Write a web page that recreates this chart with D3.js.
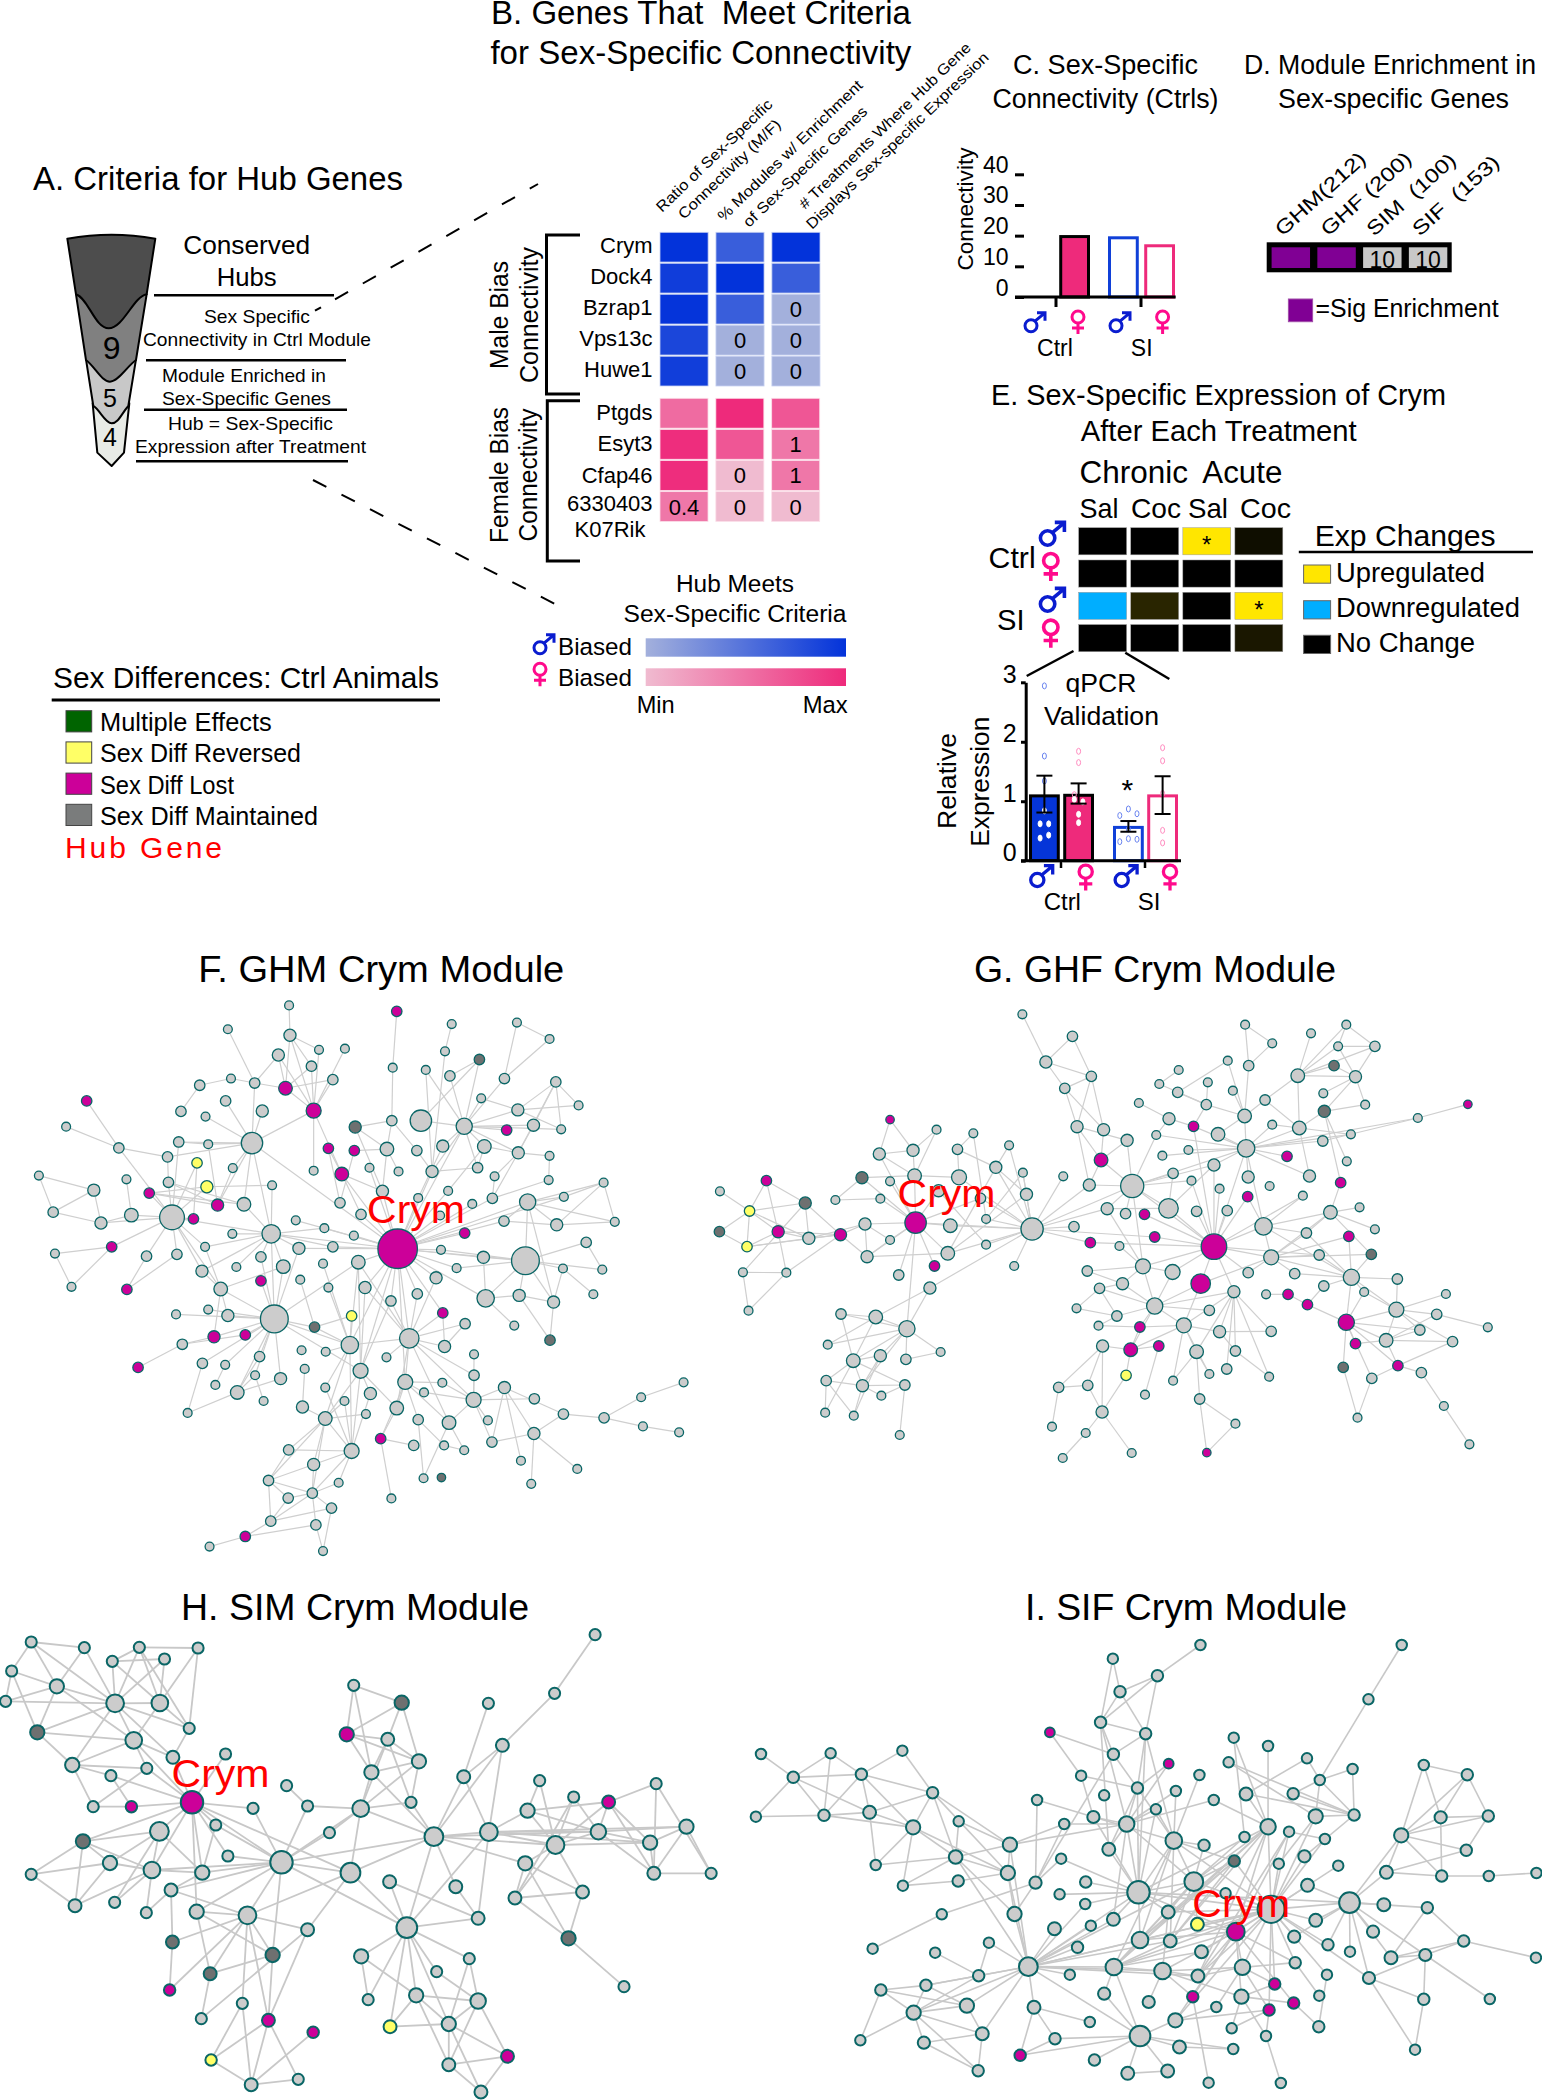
<!DOCTYPE html>
<html><head><meta charset="utf-8">
<script src="https://cdn.jsdelivr.net/npm/d3@7"></script>
<style>html,body{margin:0;background:#fff}svg{display:block}text{font-family:"Liberation Sans",Arial,sans-serif;fill:#000;white-space:pre}</style>
</head><body><svg id="c" width="1542" height="2100"></svg>
<script>
// ---------- panel B
const maleGenes=["Crym","Dock4","Bzrap1","Vps13c","Huwe1"];
const femaleGenes=["Ptgds","Esyt3","Cfap46","6330403"];
const hubMetrics=["ratio","modules","treatments"];
const maleStrength=[[1,.66,1],[.92,1,.66],[.99,.66,0],[.85,0,0],[.91,0,0]];
const maleCellText=[["","",""],["","",""],["","","0"],["","0","0"],["","0","0"]];
const femaleStrength=[[.55,1,.7],[.98,.7,.47],[.98,0,.47],[.47,0,0]];
const femaleCellText=[["","",""],["","","1"],["","0","1"],["0.4","0","0"]];
// ---------- panel C
const connGroups=["Ctrl","SI"], sexes=["M","F"];
const connTicks=[0,10,20,30,40];
const connValues=[["Ctrl","M",0],["Ctrl","F",19.7],["SI","M",19.3],["SI","F",16.7]];
// ---------- panel D
const enrichLabels=["GHM(212)","GHF (200)","SIM  (100)","SIF  (153)"];
const enrichValues=["sig","sig","10","10"];
// ---------- panel E
const treatments=["Sal1","Coc1","Sal2","Coc2"];
const exprRows=["CtrlM","CtrlF","SIM","SIF"];
const exprChange=[[0,0,1,.06],[0,0,0,0],[-1,.16,0,1],[0,0,0,.1]];
const exprStars=[["CtrlM","Sal2"],["SIM","Coc2"]];
// ---------- qPCR
const qTicks=[0,1,2,3];
const qMeans=[["Ctrl","M",1.09,.81,1.43],["Ctrl","F",1.1,.96,1.3],["SI","M",.56,.487,.667],["SI","F",1.09,.785,1.42]];
const qPoints={"CtrlM":[[0,2.94],[0,1.76],[0,1.34],[0,.84],[-1,.62],[1,.62],[1,.43],[-1,.38]],
"CtrlF":[[0,1.84],[0,1.65],[-1,1.11],[-1,1.03],[1,.99],[0,.78],[0,.64]],
"SIM":[[0,.87],[-2,.76],[2,.79],[0,.53],[0,.37],[-2,.32],[2,.36]],
"SIF":[[0,1.9],[0,1.68],[0,1.13],[0,.51],[0,.30]]};
// ---------- legend
const sexDiffLabels=["Multiple Effects","Sex Diff Reversed","Sex Diff Lost","Sex Diff Maintained"];
const sexDiffColors=["#006400","#ffff66","#cc0099","#7a7c7c"];
// ---------- networks: node = [layoutX, layoutY, connectivity, class]; class 0 none 1 lost 2 reversed 3 maintained
const fNodes=[[647,68],[888,84,3,1],[510,132],[649,148,4],[1011,118],[1157,114],[1230,158],[714,187],[772,184],[623,201,4],[697,231,3],[996,191],[1073,213,3,3],[879,235],[953,241],[1007,257,3],[1129,264,3],[1244,273,3],[517,264],[447,282,3],[570,276,3],[745,267,3],[639,290,5,1],[702,350,6,1],[587,351,4],[505,324,3],[405,352,3],[460,366],[194,324,3,1],[148,393],[1077,317],[1295,336],[1159,348,4],[877,377,3],[942,377,12],[1039,392,7],[1194,389,4],[1256,400],[1134,402,3,1],[795,394,4,3],[564,437,12],[400,434,3],[466,440],[266,450,3],[735,451,3,1],[793,457,3,1],[866,453,5],[933,457,3],[991,445,4],[1084,446,5],[1160,463,4],[1230,471],[375,474,3],[441,490,3,2],[521,504],[702,511],[765,520,5,1],[827,503],[892,513],[967,513,4],[1069,503,3],[1107,526],[1228,536],[87,524],[283,534],[377,542,3],[609,550],[463,554,4,2],[334,571,3,1],[210,563,4],[856,566,4],[936,584],[1003,565],[1102,585,3],[1351,543],[1262,581],[1181,595,7],[119,622,3],[487,603,4,1],[546,601,5],[761,597,3],[294,630,5],[385,636,16],[433,640,3,1],[226,651,4],[808,628,3],[985,631],[1057,600],[1128,646,3],[1246,656,4],[1376,648],[662,644],[726,665],[607,680,9],[520,680],[792,685],[1040,678,3,1],[1312,703,3],[890,720,40,1],[459,715],[745,715,3],[669,719,4],[250,715,3,1],[123,733],[328,740,3],[396,735,3],[987,723],[1082,743,4],[1176,752,20],[584,742,3],[802,756,5],[723,760],[634,768,5],[529,769],[452,780,4],[1022,772],[1260,773],[1348,776],[976,798,4],[672,803],[584,806,3,1],[735,824],[817,824,4],[494,828,5],[160,822],[284,829,3,1],[1328,842],[934,841,3],[875,860,3],[1087,853,8],[1162,845,4],[1239,863,4],[466,883],[394,896],[510,899,4],[614,908,20],[787,900,3,2],[991,892,3,1],[1041,921,3],[704,930,3,3],[1151,926],[479,956,4,1],[549,951,3,1],[916,960,10],[1231,965,3,3],[783,978,8],[408,976,3],[995,982,4],[675,992],[729,996],[1061,1003],[309,1038,3,1],[453,1027,3],[504,1031],[581,1009,3],[865,1011],[682,1042],[807,1047,6],[1061,1059,3],[571,1059],[628,1068,4],[907,1077,6],[990,1079],[482,1085],[728,1092],[1129,1092,4],[1530,1078],[531,1105,5],[829,1108,4],[949,1105],[1196,1122,3],[1435,1118],[590,1128],[771,1128],[1060,1125,6],[677,1144,4],[888,1147,5],[1261,1163,3],[420,1160],[819,1163],[1352,1173,3],[728,1175,5],[936,1178,3],[1005,1186,5],[1092,1180],[1439,1196],[1520,1212],[852,1229,3,1],[1195,1215,4],[926,1247,3],[994,1247],[1101,1238,3],[1039,1260],[646,1259,3],[787,1262,6],[1166,1288],[702,1298,4],[1292,1310],[948,1335],[988,1333,2,3],[601,1341,3],[758,1347],[1189,1350],[645,1388,3],[699,1375,3],[876,1389],[742,1415,3],[606,1450,3],[707,1460,3],[549,1491,3,1],[469,1518],[723,1530]];
const fStars=[[890,720,856,566,808,628,792,685,745,715,802,756,985,631,936,584,1003,565,1057,600,1102,585,1181,595,1128,646,1040,678,1262,581,987,723,1082,743,1176,752,1022,772,976,798,934,841,875,860,916,960,783,978,817,824,807,1047,765,520,669,719,607,680,1087,853,991,892,907,1077,967,513,827,503,1039,392,662,644,726,665,564,437],
[1176,752,1082,743,1181,595,1260,773,1348,776,1312,703,1239,863,1162,845,1087,853,1022,772,987,723],[1181,595,1246,656,1262,581,1351,543,1376,648,1128,646,1239,863],[1351,543,1376,648,1246,656,1262,581],[1246,656,1376,648,1128,646],[1312,703,1348,776],[1260,773,1239,863,1328,842],[1162,845,1239,863,1231,965,1087,853],[1087,853,1082,743,1151,926],[1239,863,1231,965],
[1039,392,942,377,991,445,967,513,1084,446,1134,402,1159,348,1194,389,1256,400,1077,317,1073,213,1007,257,1129,264,953,241,1069,503],[1160,463,1084,446,1230,471,1107,526,1194,389,1244,273,1102,585,1039,392],[1129,264,1157,114,1230,158],[1157,114,1230,158],[1244,273,1159,348,1295,336,1256,400,1194,389],[1159,348,1295,336,1256,400,1077,317],[1007,257,1073,213],[996,191,1011,118,967,513],[953,241,967,513],[942,377,1073,213],[877,377,879,235,866,453,795,394,933,457],[879,235,888,84],[866,453,793,457,856,566,795,394,892,513],[933,457,967,513],[991,445,936,584],[1084,446,1003,565,1069,503],[1069,503,967,513],[1107,526,1102,585],[1228,536,1102,585,1230,471],
[564,437,587,351,570,276,702,350,505,324,460,366,400,434,466,440,375,474,521,504,546,601,607,680,487,603],[702,350,639,290,649,148,714,187,772,184,697,231,745,267,623,201,702,511,765,520],[639,290,570,276,697,231,745,267,623,201,649,148],[570,276,510,132,517,264,623,201],[517,264,447,282],[447,282,405,352],[649,148,647,68,714,187,697,231],[735,451,765,520,761,597],[793,457,761,597],[765,520,808,628,856,566],[795,394,856,566],
[385,636,294,630,226,651,377,542,334,571,433,640,463,554,441,490,400,434,266,450,328,740,396,735,250,715,459,715,452,780,494,828,607,680],[266,450,194,324,148,393,375,474],[210,563,87,524,119,622,226,651],[87,524,119,622],[119,622,226,651],[226,651,294,630],[283,534,294,630],[250,715,123,733,160,822],[123,733,160,822],[284,829,396,735,328,740],[334,571,463,554,546,601,487,603],[377,542,487,603,546,601],[463,554,609,550],[441,490,433,640],[466,440,487,603],[521,504,487,603],[400,434,466,440],[375,474,377,542],
[607,680,609,550,520,680,459,715,584,742,634,768,669,719,726,665,745,715,546,601,529,769,452,780,614,908],[614,908,634,768,669,719,584,806,584,742,494,828,510,899,466,883,394,896,479,956,549,951,453,1027,504,1031,581,1009,571,1059,628,1068,531,1105,704,930,802,756,783,978,807,1047],[494,828,634,768,452,780,510,899,479,956,459,715],[309,1038,408,976],[408,976,549,951,479,956],[453,1027,420,1160],[531,1105,420,1160,571,1059,628,1068,581,1009],[482,1085,504,1031],[590,1128,571,1059],
[783,978,723,760,735,824,787,900,704,930,802,756,916,960,729,996,728,1175,787,1262,728,1092],[916,960,802,756,817,824,875,860,934,841,976,798,991,892,1041,921,995,982,1061,1059,1060,1125,1005,1186,907,1077,888,1147,865,1011],[672,803,704,930],[787,900,704,930],[807,1047,829,1108,787,1262,728,1175,888,1147,875,860,817,824,802,756],[907,1077,949,1105,1005,1186,936,1178,990,1079,852,1229,888,1147],[1060,1125,1129,1092,1196,1122,1101,1238,1005,1186,1092,1180,949,1105,990,1079,1061,1003,1061,1059],[1129,1092,1195,1215,1101,1238,1166,1288,1261,1163],[1195,1215,1101,1238,1189,1350,1292,1310,1261,1163],[1261,1163,1352,1173],[1352,1173,1435,1118,1439,1196],[1435,1118,1530,1078],[1439,1196,1520,1212],[1039,1260,994,1247],[926,1247,852,1229],[852,1229,888,1147,876,1389],[936,1178,948,1335,994,1247],[1005,1186,948,1335,1039,1260],[995,982,1041,921],[995,982,991,892],
[728,1175,677,1144,819,1163,771,1128,646,1259,702,1298,787,1262,699,1375,601,1341],[677,1144,682,1042],[787,1262,771,1128,829,1108,728,1092,702,1298,646,1259,758,1347,699,1375],[601,1341,646,1259,699,1375,645,1388,606,1450,702,1298],[699,1375,758,1347,742,1415,645,1388,707,1460,702,1298,606,1450],[606,1450,742,1415,645,1388,549,1491],[707,1460,549,1491,723,1530],[742,1415,723,1530],[469,1518,549,1491]];

const gNodes=[[631,103],[729,169,3],[677,246,4],[766,289,3],[714,325,3],[738,440,4],[790,449,4],[836,481,4],[785,540,5,1],[762,615,4],[846,618,14],[711,589],[797,686,4],[833,701,3],[870,703,3,1],[917,685,10],[732,740,3],[764,788,3,1],[890,771,3,1],[821,798],[650,747,13],[1067,134],[1120,190],[1074,257,3],[1033,242],[937,270],[899,312],[994,307],[935,337,3],[1043,332],[1106,360,3],[991,374,3],[859,369],[918,416,4],[966,439,3,1],[893,465],[1014,463,5],[1066,408,5],[1120,434],[1069,505,8],[905,527],[956,510],[1149,529,3,1],[1173,444,5],[1219,483,3],[1274,463],[1405,414],[1503,373,2,1],[1222,394,4,3],[1302,374],[1220,340],[1170,287,5],[1241,257,3,3],[1283,290,4],[1321,199,3],[1249,199],[1265,134],[1196,160],[1006,555,4],[926,580,3],[962,602],[1073,591,4],[1115,618],[1017,626],[1193,588,4],[1266,544],[1254,608,3,1],[1072,650,3,1],[1180,647],[972,694,3],[1032,692,3],[1234,697,5],[1291,682],[1321,748],[1103,739,8],[1187,759,3],[1270,769,3,1],[1006,800,17,1],[1118,832,6],[1212,825,3],[1314,823,3,3],[758,873,3],[867,859,6],[925,876,6],[1073,878,3],[1164,881,3],[1275,892,7],[1365,897,3],[827,911,4],[782,925,3],[980,911,10,1],[1045,935,4],[1108,943],[1151,943,3,1],[1221,918,3],[1300,936],[1460,942],[1189,974,3,1],[737,985],[890,978,7],[997,991,3],[1363,989,6],[1442,1003,3],[816,1008,3],[780,1037],[861,1041,3,1],[947,1036,6],[1017,1055,4],[1118,1054,3],[1265,1027,7,1],[1409,1050,3],[1542,1042],[1343,1081,5],[1473,1085,3],[1283,1091,3,1],[788,1098,4],[843,1109,5,1],[898,1098,3,1],[972,1115,5],[1048,1113,3],[1259,1162,3,3],[1366,1157,3,1],[1412,1178,3],[1315,1195,3],[1114,1190],[1031,1167,3],[834,1186,3,2],[997,1182],[926,1202],[702,1222,3],[759,1216,3],[871,1244],[978,1257,3],[787,1296,4],[1287,1313],[1456,1278],[689,1340],[755,1359],[1048,1331],[710,1434],[845,1419],[992,1418,2,1],[1506,1393],
[372,419,2,1],[463,449],[535,460],[605,496],[504,508,3],[351,522,4],[417,511,4],[579,562,4],[317,593,4,3],[420,587,5],[507,592,6],[372,604],[632,578],[467,632,4],[639,643,4],[265,660],[353,656],[549,655,3],[560,717],[323,732,4],[422,728,12,1],[490,737,5],[560,794],[372,780],[275,764,4,1],[213,775,4],[153,755,4,1],[206,669,4,3],[130,602,3,1],[39,634],[97,693,3,2],[38,755,3,3],[92,800,3,2],[327,830,4],[485,820,5],[459,858,3,1],[389,885,3],[615,858],[84,877],[169,878],[95,992],[450,924,4],[276,1002,3],[344,1011,5],[405,1046,7],[250,1094],[353,1127,4],[300,1142,5],[403,1138,3],[471,1116],[247,1202,3],[318,1217,4],[401,1215,3],[355,1247],[245,1298],[301,1307],[391,1365]];
const gStars=[[650,747,639,643,632,578,605,496,560,717,560,794,549,655,490,737,422,728,485,820,450,924,615,858,711,589,732,740,762,615,797,686,846,618,764,788,890,771,507,592,579,562],
[422,728,353,656,317,593,372,604,420,587,467,632,490,737,323,732,372,780,327,830,485,820,389,885,459,858,549,655,351,522],[417,511,463,449,351,522,420,587],[504,508,535,460,507,592,579,562],[372,419,351,522,417,511],[351,522,420,587],[420,587,507,592,317,593,463,449],[317,593,265,660],[265,660,353,656],[535,460,560,717],[579,562,605,496,485,820],[632,578,639,643,560,717],[467,632,560,794],[639,643,485,820,579,562],
[323,732,275,764,327,830,213,775,372,780],[327,830,485,820,372,780,275,764],[275,764,153,755,206,669,213,775],[213,775,97,693,92,800,206,669,153,755],[153,755,130,602,97,693,92,800],[206,669,97,693,130,602,84,877],[130,602,97,693],[39,634,97,693],[97,693,92,800,38,755],[38,755,92,800],[92,800,275,764],[84,877,169,878,95,992],[169,878,95,992,275,764,153,755],
[450,924,344,1011,405,1046],[405,1046,422,728,344,1011,276,1002,250,1094,353,1127,300,1142,403,1138,471,1116,318,1217],[344,1011,276,1002,250,1094,300,1142],[276,1002,300,1142],[300,1142,247,1202,353,1127,318,1217,245,1298,401,1215],[353,1127,318,1217,301,1307],[403,1138,471,1116],[318,1217,401,1215,247,1202,355,1247,301,1307],[247,1202,245,1298,301,1307],[401,1215,391,1365,355,1247],
[631,103,677,246],[729,169,677,246,766,289],[677,246,714,325,766,289],[766,289,714,325,738,440,790,449],[714,325,738,440,790,449],[738,440,836,481,785,540,762,615],[790,449,785,540],[836,481,785,540],[785,540,762,615,846,618],
[846,618,762,615,917,685,1006,800,836,481,797,686,926,580,962,602,893,465,1006,555,1069,505,833,701],[1006,800,917,685,890,771,764,788,870,703,972,694,1032,692,962,602,1017,626,1072,650,1103,739,1118,832,1212,825,1073,878,980,911,925,876,867,859,1045,935,1180,647,1006,555,966,439,1069,505],[917,685,1006,555,926,580,797,686],
[1069,505,1014,463,966,439,1066,408,1120,434,1173,444,1219,483,1274,463,1006,555,1073,591,1149,529,1193,588,1103,739,956,510,893,465,905,527,1405,414],[1405,414,1503,373,1219,483],[1066,408,1074,257,991,374,1043,332,1033,242,1014,463,1106,360],[1074,257,1067,134,1120,190],[1067,134,1120,190],[937,270,899,312],[1033,242,935,337],[991,374,899,312,935,337,994,307,966,439],[918,416,966,439,859,369,893,465],[1173,444,1222,394,1170,287,1274,463,1193,588,1106,360,1120,434],[1170,287,1241,257,1283,290,1321,199,1249,199,1196,160,1106,360],[1283,290,1241,257,1249,199,1302,374,1220,340,1321,199,1222,394],[1265,134,1321,199,1249,199,1170,287],[1249,199,1321,199],[1222,394,1254,608,1266,544,1302,374],
[1103,739,1187,759,1234,697,1118,832,1275,892,1072,650,1180,647],[1118,832,1212,825,1275,892,1314,823,1270,769,1187,759,1073,878,1164,881,980,911],[1234,697,1291,682,1321,748,1314,823,1187,759,1254,608,1118,832],[1275,892,1365,897,1300,936,1363,989,1221,918,1314,823,1265,1027,1164,881,1270,769,1212,825,1187,759],[1265,1027,1363,989,1343,1081,1409,1050,1283,1091,1189,974,1366,1157,1259,1162,1315,1195,1300,936],[1363,989,1442,1003,1460,942,1409,1050,1473,1085,1343,1081,1300,936,1365,897],[1343,1081,1473,1085,1409,1050,1442,1003,1366,1157,1283,1091],[1442,1003,1542,1042],[1366,1157,1473,1085,1315,1195,1412,1178],[1412,1178,1506,1393],[1315,1195,1287,1313],[1259,1162,1287,1313],[1189,974,1151,943,1221,918],[1151,943,1108,943],
[890,978,867,859,827,911,925,876,980,911,1045,935,816,1008,861,1041,843,1109,947,1036,997,991,782,925],[867,859,758,873,827,911,821,798,797,686,846,618,925,876],[758,873,827,911],[782,925,816,1008,737,985,827,911],[737,985,816,1008],[780,1037,861,1041,816,1008],[947,1036,861,1041,1017,1055,972,1115,843,1109,997,1182,926,1202,1045,935,980,911],[1017,1055,1118,1054,1048,1113,1045,935],[1045,935,1114,1190,1118,1054,1048,1113,1031,1167,972,1115],[843,1109,898,1098,788,1098,834,1186,861,1041],[788,1098,702,1222,787,1296,759,1216],[702,1222,759,1216,689,1340],[759,1216,787,1296],[787,1296,755,1359,845,1419,834,1186],[755,1359,710,1434],[898,1098,871,1244],[972,1115,978,1257,997,1182,926,1202],[978,1257,1048,1331,992,1418],[1048,1331,992,1418],[1114,1190,1048,1113]];

const hNodes=[[1277,104],[67,126],[181,143],[299,142],[425,144],[241,184],[353,177],[25,213],[122,259,6],[759,256],[862,308,6,3],[1190,280],[1048,310],[12,304],[247,310,9],[343,309,8],[406,385],[80,397,6,3],[744,403,6,1],[832,418,5],[287,421,8],[1078,436,5],[371,472,5],[484,462],[899,484,6],[155,495,6],[315,505],[238,527],[797,517,6],[995,530,5],[1158,542],[1408,551],[615,557],[1231,591],[1306,606,5,1],[200,620],[282,620,4,1],[412,607,14,1],[543,625],[660,618],[774,626,8],[882,607],[1132,632,6],[463,675],[342,694,10],[707,698],[931,710,10],[1049,696,9],[1284,695,7],[1473,680,6],[178,724,6,3],[1192,735,9],[1395,728,6],[236,789,6],[489,768],[604,787,14],[1127,790,6],[326,810,8],[434,818,6],[752,818,11],[67,823],[1403,820,5],[1526,820],[836,845,5],[367,870,5],[978,860,5],[1105,894,5],[1250,876,5],[161,917,5],[246,907],[314,938],[422,935,6],[531,946,9],[1026,955,5],[873,983,12],[660,989,5],[370,1026,5,3],[585,1065,6,3],[1220,1015,6,3],[775,1069,6],[1007,1076],[937,1115],[451,1121,5,3],[364,1170,4,1],[1339,1160],[893,1186,6],[1026,1203,7],[790,1199],[520,1210],[432,1256],[576,1261,5,1],[963,1272,6],[837,1280,5,2],[672,1297,4,1],[453,1380,4,2],[1089,1369,5,1],[963,1394,5],[640,1438],[539,1454,5],[1032,1476,5]];
const hStars=[[412,607,371,472,463,675,543,625,282,620,342,694,489,768,326,810,434,818,178,724,604,787,315,505,238,527,287,421,422,935,752,818,484,462],[282,620,200,620,238,527],[247,310,67,126,181,143,241,184,299,142,353,177,122,259,12,304,80,397,343,309,287,421,155,495,371,472,406,385],[343,309,241,184,299,142,353,177,425,144,406,385,287,421],[287,421,80,397,155,495,371,472,122,259,315,505,412,607],[122,259,67,126,25,213,12,304,80,397,181,143],[25,213,12,304,80,397,67,126],[67,126,181,143],[299,142,425,144,241,184,406,385],[241,184,353,177],[425,144,406,385],[406,385,371,472],[80,397,155,495],[155,495,315,505,238,527,200,620],[315,505,200,620],[238,527,282,620],
[342,694,178,724,326,810,236,789,246,907,434,818],[178,724,161,917,236,789,326,810],[236,789,67,823,161,917,326,810],[67,823,178,724,161,917],[326,810,434,818,604,787,161,917,246,907,314,938],[434,818,604,787,367,870,463,675],[367,870,370,1026,531,946,314,938,604,787],[422,935,531,946,604,787,451,1121,585,1065],
[604,787,543,625,660,618,707,698,774,626,489,768,463,675,931,710,752,818,531,946,873,983,585,1065],[774,626,660,618,707,698,882,607,797,517,931,710,752,818,899,484],[660,618,615,557],[752,818,931,710,873,983,660,989,531,946],[931,710,1049,696,882,607,797,517,995,530,1078,436,1192,735,1284,695,978,860,873,983,1127,790],[1078,436,1190,280,995,530,1049,696],[1190,280,1277,104],[995,530,1048,310,1049,696],[1049,696,1132,632,1192,735,1284,695,1473,680,1395,728,1026,955,873,983],[1132,632,1158,542,1306,606,1192,735,1284,695],[1158,542,1192,735],[1192,735,1231,591,1306,606,1284,695,1395,728,1127,790,1250,876,1105,894],[1231,591,1105,894,1284,695],[1284,695,1306,606,1395,728,1473,680,1403,820],[1306,606,1408,551,1403,820,1395,728],[1408,551,1403,820,1526,820],[1473,680,1395,728,1526,820,1403,820],[1403,820,1526,820,1395,728],[1127,790,1250,876,1220,1015,1105,894],[1105,894,1250,876,1220,1015],[1250,876,1220,1015],[1220,1015,1339,1160],
[873,983,836,845,1026,955,775,1069,1007,1076,893,1186,790,1199,837,1280,937,1115,963,1272],[836,845,1026,955],[978,860,1026,955],[759,256,862,308,744,403,797,517],[862,308,744,403,832,418,899,484],[744,403,832,418,899,484,797,517],[832,418,797,517,899,484,882,607,774,626],[797,517,774,626,899,484],[899,484,882,607,774,626],
[531,946,370,1026,660,989,585,1065,520,1210,576,1261,451,1121,364,1170,752,818],[660,989,432,1256,576,1261],[585,1065,451,1121,576,1261],[451,1121,432,1256],[370,1026,364,1170],[576,1261,453,1380,539,1454,640,1438],[520,1210,453,1380,539,1454],[453,1380,539,1454],[672,1297,539,1454],[539,1454,640,1438],[775,1069,790,1199,893,1186],[893,1186,1026,1203,963,1272,837,1280,963,1394],[937,1115,1026,1203],[1007,1076,1026,1203,963,1272],[1026,1203,963,1272,1089,1369,963,1394],[963,1272,837,1280,1089,1369,963,1394,1032,1476],[963,1394,1089,1369,1032,1476],[1089,1369,1032,1476]];

const iNodes=[[899,135],[1292,135],[728,176],[815,227,4],[742,275,4],[1227,298],[704,367,4],[792,401,4],[605,397,3,1],[964,413],[1031,438],[317,452],[177,460],[41,462],[729,463,4],[837,491,3,1],[1107,475],[954,487],[1335,495],[1196,507],[104,532,4],[237,523,4],[666,527],[897,525],[1420,524,4],[1132,540],[776,564,4],[376,578,4],[851,573],[711,586],[988,582,5],[1080,581,4],[580,600],[925,600],[812,628],[31,650],[164,646,4],[253,637,5],[427,664],[633,672],[690,651,4.5],[755,672,7],[1199,645,4],[1124,649,6],[1031,680,7],[1072,695],[1368,652,4.5],[1461,648,4],[338,682,6],[527,734,6],[847,722,8],[906,736,4],[985,711],[1142,717],[1291,706,6],[1418,751,4],[720,748,5],[627,776],[421,771,5.5],[265,795],[965,783,4,3],[1052,791],[1102,769,4.5],[1168,797],[523,819,6],[426,843,4],[318,857],[577,848,4.5],[675,846,4],[886,845,10],[1262,817,5],[1370,828,4],[1462,828],[1555,819],[624,883],[778,877,14],[948,880],[1108,856,5],[1037,928,20],[1190,908,12],[1257,914,5],[1342,923,4],[674,912],[836,936,5],[536,942,6],[394,943],[729,958,5],[893,973,5,2],[1124,961,5],[685,977],[614,986,5],[968,995,9,1],[1236,995,4.5],[781,1020,8],[840,1023,5],[1082,1010,4.5],[1413,1023,4],[486,1028],[259,1046],[659,1042,4],[381,1058],[1148,1034,4],[901,1055,5],[1191,1055],[1338,1065,4.5],[1271,1073,5],[1554,1073],[563,1100,10],[730,1101,8],[825,1113,8],[981,1102,7],[1084,1088,4],[644,1124],[466,1127,4],[363,1156,4],[894,1128,5],[1146,1124],[1228,1134,4.5],[275,1170,4],[1044,1152,4,1],[711,1181,4.5],[884,1190,4,1],[979,1190,6],[1081,1209,4,1],[1131,1187],[1335,1198,4],[1464,1197],[798,1206,4.5],[930,1221],[443,1217,6],[339,1238,6],[574,1222,5],[850,1261,6],[1033,1230,4,1],[683,1266],[960,1285],[1130,1280,4],[473,1301,5],[781,1308,12],[1027,1308],[615,1316,4],[235,1321],[359,1328,4.5],[858,1341,5],[963,1347],[1318,1349],[547,1366,4,1],[692,1380,4],[465,1412,4],[835,1413,5],[757,1420,5],[915,1448],[1056,1449]];
const iStars=[[1037,928,1031,680,1072,695,1124,649,1102,769,1052,791,965,783,1142,717,1108,856,1190,908,1124,961,1082,1010,968,995,981,1102,1084,1088,894,1128,901,1055,850,1261,781,1020,778,877,836,936,886,845,730,1101,1044,1152,1146,1124,1148,1034,1228,1134,847,722,1168,797,1033,1230,893,973,840,1023,948,880,563,1100],
[886,845,755,672,847,722,906,736,985,711,965,783,1031,680,778,877,836,936,840,1023,781,1020,893,973],[778,877,755,672,776,564,690,651,720,748,847,722,624,883,675,846,729,958,781,1020,886,845,1031,680,836,936,674,912,1190,908,968,995],
[563,1100,536,942,486,1028,466,1127,443,1217,473,1301,339,1238,363,1156,574,1222,644,1124,730,1101,659,1042,614,986,685,977,729,958,781,1308,527,734,523,819,674,912,778,877,825,1113,781,1020,840,1023,886,845,894,1128],[781,1308,615,1316,858,1341,963,1347,692,1380,835,1413,757,1420,547,1366,850,1261,711,1181,730,1101,563,1100],[730,1101,825,1113,781,1020,840,1023,968,995,901,1055,711,1181,886,845],[825,1113,798,1206,894,1128,884,1190,979,1190,836,936,968,995],[981,1102,1084,1088,1044,1152,894,1128,930,1221,1033,1230,968,995,825,1113],[979,1190,960,1285,1027,1308,1081,1209,1044,1152,968,995],[850,1261,930,1221,1033,1230,968,995],[884,1190,915,1448,968,995],[1033,1230,1027,1308,960,1285],[1027,1308,1056,1449],[1081,1209,1130,1280],[1146,1124,1130,1280],[1131,1187,1084,1088],[968,995,894,1128,781,1020,730,1101,1084,1088,1081,1209,893,973,850,1261],
[847,722,778,877,886,845,781,1020,840,1023,730,1101],[755,672,778,877,720,748,729,958],[1031,680,781,1020,840,1023,730,1101,894,1128,968,995],[965,783,730,1101,781,1020,840,1023],[1072,695,968,995,894,1128],[776,564,847,722,778,877,720,748],[792,401,778,877,847,722],[704,367,755,672,720,748],[812,628,778,877],[728,176,704,367],
[1190,908,1257,914,1342,923,1236,995,1191,1055,1271,1073,1124,961,1108,856,1148,1034,1262,817,1291,706,1338,1065,1228,1134,1082,1010],[1291,706,1368,652,1461,648,1418,751,1335,495,1420,524,1262,817,1370,828],[1368,652,1461,648,1420,524,1335,495,1370,828],[1335,495,1420,524],[1420,524,1461,648],[1461,648,1418,751],[1418,751,1262,817],[1262,817,1370,828],[1370,828,1462,828],[1462,828,1555,819],[1342,923,1413,1023,1271,1073],[1413,1023,1554,1073,1338,1065,1271,1073],[1338,1065,1228,1134,1335,1198,1464,1197,1271,1073],[1228,1134,1318,1349,1335,1198],[1335,1198,1318,1349],[1227,298,1292,135,1132,540],[1132,540,1107,475,1196,507,1080,581,1124,649,1199,645],[1199,645,1124,649,988,582,1080,581,954,487,1196,507,1102,769],[1031,680,988,582,964,413,925,600,1031,438],[1107,475,988,582],[954,487,1124,649],[1124,649,1052,791],[964,413,985,711],[1072,695,1142,717],
[847,722,851,573,776,564,812,628,690,651,897,525,906,736,965,783],[755,672,776,564,851,573,837,491,633,672,690,651,812,628,527,734,925,600],[776,564,837,491,792,401,729,463,666,527],[729,463,792,401,704,367,605,397,577,848],[666,527,605,397,690,651],[792,401,704,367,742,275,776,564],[704,367,742,275,729,463],[742,275,815,227,728,176],[815,227,899,135,704,367,792,401],
[580,600,577,848,690,651],[527,734,427,664,421,771,523,819,633,672,376,578],[523,819,426,843,421,771,376,578,536,942],[421,771,338,682,265,795,318,857,376,578,536,942,563,1100],[426,843,318,857,523,819],[427,664,421,771],[338,682,376,578,237,523,253,637,265,795,318,857,164,646,421,771,523,819],[253,637,376,578,237,523,104,532,164,646,265,795],[237,523,104,532,177,460,317,452,164,646,376,578],[317,452,376,578],[104,532,41,462,177,460,31,650,164,646],[177,460,164,646],[31,650,164,646],[164,646,338,682],[394,943,259,1046,577,848],[577,848,536,942,627,776],[633,672,577,848],[627,776,778,877],
[381,1058,466,1127],[363,1156,443,1217,275,1170,339,1238,466,1127],[275,1170,339,1238,443,1217,235,1321],[339,1238,466,1127,473,1301,359,1328,465,1412,235,1321,443,1217],[359,1328,473,1301,465,1412],[473,1301,465,1412,443,1217],[466,1127,486,1028,339,1238],[574,1222,547,1366,615,1316,683,1266],[547,1366,615,1316],[757,1420,835,1413],[858,1341,963,1347],[1052,791,1037,928]];

// ---------- drawing
const svg=d3.select("#c");
const defs=svg.append("defs");
function T(x,y,s,o={}){const t=svg.append("text").attr("x",x).attr("y",y).text(s).attr("font-size",o.size||24).attr("text-anchor",o.anchor||"start");
 if(o.w){t.attr("textLength",o.w).attr("lengthAdjust",o.spacing?"spacing":"spacingAndGlyphs");}
 if(o.rot!==undefined)t.attr("transform",`rotate(${o.rot} ${x} ${y})`);
 if(o.fill)t.style("fill",o.fill);return t;}
function L(x1,y1,x2,y2,w=2.5,dash){const l=svg.append("line").attr("x1",x1).attr("y1",y1).attr("x2",x2).attr("y2",y2).attr("stroke","#000").attr("stroke-width",w);if(dash)l.attr("stroke-dasharray",dash);return l;}
const BLUE="#0a1ccf",PINK="#ff0a8c";
function male(cx,cy,k=1){const g=svg.append("g").attr("transform",`translate(${cx},${cy}) scale(${k})`).attr("fill","none").attr("stroke",BLUE).attr("stroke-width",3);
 g.append("circle").attr("r",6);g.append("path").attr("d","M4,-4.5L13,-12M6,-13H14V-5");}
function female(cx,cy,k=1){const g=svg.append("g").attr("transform",`translate(${cx},${cy}) scale(${k})`).attr("fill","none").attr("stroke",PINK).attr("stroke-width",3);
 g.append("circle").attr("r",6);g.append("path").attr("d","M0,6V17M-6,11H6");}

// --- A
T(33,190,"A. Criteria for Hub Genes",{size:32.5,w:370});
const fg=svg.append("g").attr("transform","translate(0,150) scale(0.3333)").attr("stroke","#000").attr("stroke-width",6).attr("stroke-linejoin","round");
[["M278,760 L292,908 L335,948 L372,908 L388,760 Z","#e8ebe6"],
 ["M258,628 L280,768 C300,780 315,820 335,820 C355,820 365,790 385,768 L408,628 Z","#c8c8c8"],
 ["M228,433 L258,630 C285,650 305,695 330,695 C355,695 380,650 408,630 L440,433 Z","#808080"],
 ["M202,266 Q335,243 466,266 L440,433 C400,440 370,535 326,535 C285,535 265,445 228,433 Z","#4d4d4d"]
].forEach(d=>fg.append("path").attr("d",d[0]).attr("fill",d[1]));
T(111.7,359,"9",{size:32,anchor:"middle"});T(110,407,"5",{size:25,anchor:"middle"});T(110,446,"4",{size:25,anchor:"middle"});
T(246.7,254,"Conserved",{size:26.5,anchor:"middle",w:127});T(246.7,286,"Hubs",{size:26.5,anchor:"middle",w:60});
L(154,295.3,334,295.3);
T(257,322.7,"Sex Specific",{size:19,anchor:"middle",w:106});T(143,346,"Connectivity in Ctrl Module",{size:19,w:228});
L(146,360.3,346,360.3);
T(162,381.7,"Module Enriched in",{size:19,w:164});T(162,405,"Sex-Specific Genes",{size:19,w:169});
L(144,409.7,347,409.7);
T(168,430,"Hub = Sex-Specific",{size:19,w:165});T(135,452.7,"Expression after Treatment",{size:19,w:231});
L(136,461.3,348,461.3);
L(335,299.3,538,184,2,"15,17");L(315,310.7,321,307.3,2);
L(313,480,557,605,2,"15,17");

// --- B
T(491,24,"B. Genes That  Meet Criteria",{size:33,w:420});
T(490.4,64,"for Sex-Specific Connectivity",{size:33,w:421});
[[662,213,"Ratio of Sex-Specific",155],[684,220,"Connectivity (M/F)",136],[723.4,222,"% Modules w/ Enrichment",195],[749,228,"of Sex-Specific Genes",166],[805,210,"# Treatments Where Hub Gene",232],[812,230,"Displays Sex-specific Expression",247]]
 .forEach(d=>T(d[0],d[1],d[2],{size:15,rot:-44,w:d[3]}));
const blueC=d3.scaleLinear().domain([0,1]).range(["#a3b0dc","#0333da"]);
const pinkC=d3.scaleLinear().domain([0,1]).range(["#f0bbd0","#ee2a7b"]);
function hub(genes,vals,txt,col,xr,yr,strokeC){
 const x=d3.scaleBand().domain(hubMetrics).range(xr).paddingInner(.14);
 const y=d3.scaleBand().domain(genes).range(yr).paddingInner(.04);
 genes.forEach((g,i)=>hubMetrics.forEach((m,j)=>{
  svg.append("rect").attr("x",x(m)).attr("y",y(g)).attr("width",x.bandwidth()).attr("height",y.bandwidth()).attr("fill",col(vals[i][j])).attr("stroke",strokeC).attr("stroke-width",.8);
  if(txt[i][j])T(x(m)+x.bandwidth()/2,y(g)+y.bandwidth()/2+8,txt[i][j],{size:22,anchor:"middle"});
 }));
 return y;
}
const ym=hub(maleGenes,maleStrength,maleCellText,blueC,[660,820],[232.3,386],"#c8d2f2");
const yf=hub(femaleGenes,femaleStrength,femaleCellText,pinkC,[660,819.7],[398.3,521.5],"#fbdfe9");
maleGenes.forEach(g=>T(652.6,ym(g)+20.5,g,{size:22,anchor:"end"}));
femaleGenes.forEach(g=>T(652.6,yf(g)+(g==="6330403"?19:22),g,{size:22,anchor:"end"}));
T(610,537,"K07Rik",{size:22,anchor:"middle"});
const br=(x,y1,y2,xe)=>svg.append("path").attr("d",`M${xe},${y1}H${x}V${y2}H${xe}`).attr("fill","none").attr("stroke","#000").attr("stroke-width",3);
br(546.5,235,394,580);br(547.3,400.7,561,580);
T(508,315,"Male Bias",{size:25,anchor:"middle",rot:-90,w:108});T(538,315,"Connectivity",{size:25,anchor:"middle",rot:-90,w:136});
T(507.7,475,"Female Bias",{size:25,anchor:"middle",rot:-90,w:136});T(537,475,"Connectivity",{size:25,anchor:"middle",rot:-90,w:133});
T(735,591.7,"Hub Meets",{size:23.5,anchor:"middle",w:118});T(735,621.7,"Sex-Specific Criteria",{size:23.5,anchor:"middle",w:223});
male(540,647.7);female(540,669.3);
T(558,655,"Biased",{size:24.5,w:74});T(558,685.7,"Biased",{size:24.5,w:74});
[["gb",blueC],["gp",pinkC]].forEach(([id,c])=>{const g=defs.append("linearGradient").attr("id",id);g.append("stop").attr("offset",0).attr("stop-color",c(0));g.append("stop").attr("offset",1).attr("stop-color",c(1));});
svg.append("rect").attr("x",645.7).attr("y",638.3).attr("width",200.3).attr("height",18.4).attr("fill","url(#gb)");
svg.append("rect").attr("x",645.7).attr("y",668.3).attr("width",200.3).attr("height",17.7).attr("fill","url(#gp)");
T(636.7,712.7,"Min",{size:24.5,w:38});T(802.7,712.7,"Max",{size:24.5,w:45});

// --- C
T(1013,74.3,"C. Sex-Specific",{size:27,w:185});T(992.5,107.7,"Connectivity (Ctrls)",{size:27,w:226});
const cy=d3.scaleLinear().domain([0,40]).range([297,174.3]);
const cg=d3.scalePoint().domain(connGroups).range([1056,1141]);
const cs=d3.scaleBand().domain(sexes).range([-33,34]).paddingInner(.15);
const ca=svg.append("g").attr("transform","translate(1024,0)").call(d3.axisLeft(cy).tickValues(connTicks).tickSize(9).tickPadding(6.5));
ca.select(".domain").remove();ca.selectAll("line").attr("stroke","#000").attr("stroke-width",3);
ca.selectAll("text").attr("font-size",23).attr("font-family",null).attr("dy",-2);
connValues.forEach(d=>{if(!d[2])return;const filled=d[0]==="Ctrl";
 svg.append("rect").attr("x",cg(d[0])+cs(d[1])+1.5).attr("y",cy(d[2])).attr("width",cs.bandwidth()-3).attr("height",cy(0)-cy(d[2]))
  .attr("fill",filled?"#ee2a7b":"#fff").attr("stroke",filled?"#000":(d[1]==="M"?"#1040d8":"#ee2a7b")).attr("stroke-width",3);});
L(1015,297,1175.7,297,3);
connGroups.forEach(g=>L(cg(g),297,cg(g),307,3));
male(1031,325.7);female(1078,317);male(1116,325.7);female(1162.6,317);
T(1055,356,"Ctrl",{size:23,anchor:"middle"});T(1141.7,356,"SI",{size:23,anchor:"middle"});
T(973,209,"Connectivity",{size:22,anchor:"middle",rot:-90,w:123});

// --- D
T(1244,74.3,"D. Module Enrichment in",{size:27,w:292});T(1278,107.7,"Sex-specific Genes",{size:27,w:231});
svg.append("rect").attr("x",1266.7).attr("y",242.3).attr("width",185).attr("height",30).attr("fill","#000");
const dx=d3.scaleBand().domain(enrichLabels).range([1271.6,1447.3]).paddingInner(.16);
enrichLabels.forEach((l,i)=>{const v=enrichValues[i];
 svg.append("rect").attr("x",dx(l)).attr("y",247.3).attr("width",dx.bandwidth()).attr("height",20.7).attr("fill",v==="sig"?"#800094":"#c8c8c8");
 if(v!=="sig")T(dx(l)+dx.bandwidth()/2,268,v,{size:23,anchor:"middle"});
 T(dx(l)+11,237,l,{size:20,rot:-42,w:[114,114,112,109][i]});});
svg.append("rect").attr("x",1288.4).attr("y",299).attr("width",24.2).attr("height",22.7).attr("fill","#800094").attr("stroke","#a04ca8");
T(1315.6,316.7,"=Sig Enrichment",{size:25,w:183});

// --- E
T(991,405,"E. Sex-Specific Expression of Crym",{size:29,w:455});T(1080.7,441,"After Each Treatment",{size:29,w:276});
T(1079.5,483.3,"Chronic",{size:31,w:108.5});T(1202.3,483.3,"Acute",{size:31,w:80});
[["Sal",1079.5,39],["Coc",1131,50],["Sal",1188,40],["Coc",1240,51]].forEach(d=>T(d[1],517.7,d[0],{size:27.5,w:d[2]}));
const ex=d3.scaleBand().domain(treatments).range([1078.7,1282.8]).paddingInner(.08);
const ey=d3.scaleBand().domain(exprRows).range([527.7,651.7]).paddingInner(.16);
const ec=d3.scaleLinear().domain([-1,0,1]).range(["#00aeff","#000000","#ffe600"]);
exprRows.forEach((r,i)=>treatments.forEach((t,j)=>svg.append("rect").attr("x",ex(t)).attr("y",ey(r)).attr("width",ex.bandwidth()).attr("height",ey.bandwidth()).attr("fill",ec(exprChange[i][j])).attr("stroke","#999").attr("stroke-width",.5)));
exprStars.forEach(([r,t])=>T(ex(t)+ex.bandwidth()/2,ey(r)+ey.bandwidth()/2+12,"*",{size:24,anchor:"middle"}));
T(988.6,568,"Ctrl",{size:30,w:47});T(997,630,"SI",{size:30,w:27.5});
male(1047.6,538,1.2);female(1050.8,560.7,1.2);male(1047.6,604,1.2);female(1050.8,627.3,1.2);
T(1314.7,546,"Exp Changes",{size:30,w:181});L(1298.8,552,1533,552,2.5);
[["#ffe600",565,"Upregulated",581.7,149],["#00aeff",600.7,"Downregulated",617.3,184],["#000",635.3,"No Change",651.7,139]].forEach(d=>{
 svg.append("rect").attr("x",1303.6).attr("y",d[1]).attr("width",27).attr("height",18.2).attr("fill",d[0]).attr("stroke","#666");
 T(1336,d[3],d[2],{size:27,w:d[4]});});
L(1073.5,651,1026.7,676);L(1125.3,652.7,1169.3,679);

// --- qPCR
const qy=d3.scaleLinear().domain([0,3]).range([860.7,682.3]);
const qg=d3.scalePoint().domain(connGroups).range([1061,1145]);
const qs=d3.scaleBand().domain(sexes).range([-32,33]).paddingInner(.1);
const qa=svg.append("g").attr("transform","translate(1025.7,0)").call(d3.axisLeft(qy).tickValues(qTicks).tickFormat(d3.format("d")).tickSize(4.7).tickSizeOuter(0).tickPadding(4.3));
qa.selectAll("line,.domain").attr("stroke","#000").attr("stroke-width",3);
qa.selectAll("text").attr("font-size",25).attr("font-family",null).attr("dy",0);
qMeans.forEach(d=>{const filled=d[0]==="Ctrl",x0=qg(d[0])+qs(d[1])+1.5,w=qs.bandwidth()-3,cx=x0+w/2,light=d[1]==="M"?"#6a84f0":"#ff8cc0",main=d[1]==="M"?(filled?"#0535d8":"#1040d8"):"#ee2a7b";
 svg.append("rect").attr("x",x0).attr("y",qy(d[2])).attr("width",w).attr("height",qy(0)-qy(d[2])).attr("fill",filled?main:"#fff").attr("stroke",filled?"#000":main).attr("stroke-width",3);
 qPoints[d[0]+d[1]].forEach(p=>{const inside=filled&&p[1]<d[2];
  svg.append("ellipse").attr("cx",cx+p[0]*4.3).attr("cy",qy(p[1])).attr("rx",2).attr("ry",3).attr("fill",inside?"#fff":"none").attr("stroke",inside?"#fff":light).attr("stroke-width",1);});
 L(cx,qy(d[3]),cx,qy(d[4]),2);L(cx-8,qy(d[3]),cx+8,qy(d[3]),2);L(cx-8,qy(d[4]),cx+8,qy(d[4]),2);});
L(1021,860.7,1181,860.7,3);
connGroups.forEach(g=>L(qg(g),860.7,qg(g),868,2.5));
T(1127.3,800,"*",{size:30,anchor:"middle"});
T(1101,691.7,"qPCR",{size:26,anchor:"middle",w:71});T(1044,725,"Validation",{size:26,w:115});
T(956,781,"Relative",{size:26,anchor:"middle",rot:-90,w:96});T(989.3,781.7,"Expression",{size:26,anchor:"middle",rot:-90,w:130});
male(1037.3,880,1.1);female(1085.7,871.7,1.1);male(1121.7,880,1.1);female(1170,871.7,1.1);
T(1062.3,910,"Ctrl",{size:24,anchor:"middle"});T(1149,910,"SI",{size:24,anchor:"middle"});

// --- legend
T(53,688.3,"Sex Differences: Ctrl Animals",{size:30,w:386});L(51.7,700,440,700,3);
const ly=d3.scalePoint().domain(sexDiffLabels).range([710.7,804.3]);
const lw=[171.7,201,134,218];
sexDiffLabels.forEach((l,i)=>{svg.append("rect").attr("x",66).attr("y",ly(l)).attr("width",25.7).attr("height",21.2).attr("fill",sexDiffColors[i]).attr("stroke","#444");
 T(100,ly(l)+20.5,l,{size:26,w:lw[i]});});
T(65,858.3,"Hub Gene",{size:30,w:157,spacing:true,fill:"#ff0000"});

// --- networks
const nodeFill=["#cccccc","#cc0099","#ffff66","#6e7070"];
function network(nodes,stars,o){
 const sx=d3.scaleLinear().domain([0,1560]).range(o.xr),sy=d3.scaleLinear().domain(o.yd).range(o.yr);
 const r=d3.scaleSqrt().domain([0,40]).range([0,20]);
 const del=d3.Delaunay.from(nodes,d=>d[0],d=>d[1]);
 const seen=new Set(),links=[];
 stars.forEach(s=>{const a=del.find(s[0],s[1]);for(let i=2;i<s.length;i+=2){const b=del.find(s[i],s[i+1]),k=Math.min(a,b)+"-"+Math.max(a,b);if(a!==b&&!seen.has(k)){seen.add(k);links.push([nodes[a],nodes[b]]);}}});
 const g=svg.append("g");
 g.selectAll("line").data(links).join("line").attr("x1",d=>sx(d[0][0])).attr("y1",d=>sy(d[0][1])).attr("x2",d=>sx(d[1][0])).attr("y2",d=>sy(d[1][1])).attr("stroke",o.edge).attr("stroke-width",o.ew);
 g.selectAll("circle").data(nodes).join("circle").attr("cx",d=>sx(d[0])).attr("cy",d=>sy(d[1])).attr("r",d=>r(d[2]||o.w0)-o.sw/2+.4)
  .attr("fill",d=>nodeFill[d[3]||0]).attr("stroke","#0a6666").attr("stroke-width",o.sw);
}
network(fNodes,fStars,{xr:[0,697],yd:[0,1554],yr:[980,1560],w0:2.2,sw:1.3,ew:1.2,edge:"#cfcfcf"});
network(gNodes,gStars,{xr:[700,1497],yd:[0,1500],yr:[980,1480],w0:2.2,sw:1.3,ew:1.2,edge:"#cfcfcf"});
network(hNodes,hStars,{xr:[0,727],yd:[0,1500],yr:[1600,2100],w0:3.8,sw:2,ew:1.8,edge:"#c8c8c8"});
network(iNodes,iStars,{xr:[740,1539],yd:[0,1500],yr:[1600,2100],w0:3.4,sw:2,ew:1.6,edge:"#c8c8c8"});
T(198.3,982,"F. GHM Crym Module",{size:36,w:366});T(974,982,"G. GHF Crym Module",{size:36,w:362});
T(181,1620,"H. SIM Crym Module",{size:36,w:348});T(1025,1620,"I. SIF Crym Module",{size:36,w:322});
[[367,1223],[897.5,1207],[171.5,1786.7],[1192.3,1916.7]].forEach(p=>T(p[0],p[1],"Crym",{size:39,w:98,fill:"#ff0000"}));
</script></body></html>
